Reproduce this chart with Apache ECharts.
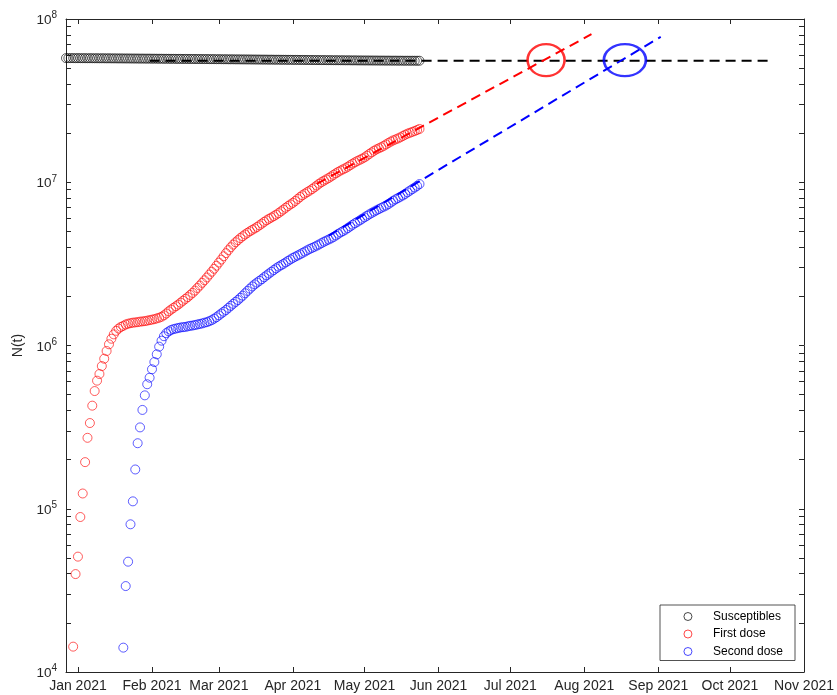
<!DOCTYPE html>
<html><head><meta charset="utf-8">
<script src="https://cdn.jsdelivr.net/npm/echarts@6/dist/echarts.min.js"></script>
<style>html,body{margin:0;padding:0;background:#fff}#c{width:837px;height:695px}</style>
</head><body><div id="c"></div>
<script>
// ---------------- data ----------------
const axisStart = '2020-12-27';
const axisEnd = '2021-11-01';
const monthTicks = ['2021-01-01','2021-02-01','2021-03-01','2021-04-01','2021-05-01','2021-06-01','2021-07-01','2021-08-01','2021-09-01','2021-10-01','2021-11-01'];
const monthLabels = ['Jan 2021','Feb 2021','Mar 2021','Apr 2021','May 2021','Jun 2021','Jul 2021','Aug 2021','Sep 2021','Oct 2021','Nov 2021'];
const yExponents = [4,5,6,7,8];
const seriesNames = ['Susceptibles','First dose','Second dose'];

// daily values, first entry on the given start date
const susceptiblesStart = '2020-12-27';
const susceptibles = [ // millions
57.60,57.59,57.58,57.57,57.56,57.55,57.54,57.53,57.52,57.51,
57.50,57.49,57.48,57.47,57.46,57.45,57.44,57.43,57.42,57.40,
57.39,57.37,57.36,57.34,57.33,57.31,57.30,57.28,57.27,57.25,
57.24,57.22,57.21,57.19,57.18,57.16,57.15,57.13,57.12,57.10,
57.09,57.07,57.06,57.04,57.03,57.01,57.00,56.98,56.97,56.95,
56.94,56.92,56.91,56.89,56.88,56.86,56.85,56.83,56.82,56.80,
56.78,56.77,56.75,56.73,56.72,56.70,56.68,56.67,56.65,56.63,
56.62,56.60,56.58,56.57,56.55,56.53,56.52,56.50,56.48,56.47,
56.45,56.43,56.42,56.40,56.38,56.37,56.35,56.33,56.32,56.30,
56.28,56.27,56.25,56.23,56.22,56.20,56.18,56.17,56.15,56.13,
56.12,56.10,56.08,56.07,56.05,56.03,56.02,56.00,55.98,55.97,
55.95,55.93,55.92,55.90,55.89,55.87,55.86,55.84,55.83,55.81,
55.80,55.78,55.77,55.75,55.74,55.72,55.71,55.70,55.68,55.67,
55.66,55.64,55.63,55.62,55.61,55.60,55.59,55.58,55.57,55.56,
55.55,55.54,55.53,55.53,55.52,55.52,55.51,55.51,55.50];

const firstDoseStart = '2020-12-30';
const firstDose = [ // millions
0.0143,0.0398,0.0509,0.089,0.124,0.193,0.272,0.335,0.428,0.526,
0.609,0.669,0.748,0.830,0.925,1.017,1.10,1.17,1.23,1.27,
1.30,1.32,1.345,1.36,1.37,1.38,1.385,1.39,1.40,1.405,
1.41,1.42,1.43,1.44,1.45,1.465,1.48,1.50,1.53,1.57,
1.62,1.66,1.70,1.74,1.78,1.83,1.88,1.93,1.98,2.04,
2.10,2.17,2.25,2.33,2.42,2.51,2.61,2.72,2.83,2.95,
3.08,3.22,3.36,3.52,3.68,3.84,4.00,4.15,4.29,4.42,
4.55,4.67,4.79,4.90,5.01,5.11,5.21,5.32,5.45,5.58,
5.72,5.85,5.97,6.08,6.20,6.33,6.47,6.63,6.80,6.98,
7.15,7.32,7.48,7.68,7.90,8.12,8.33,8.52,8.70,8.88,
9.08,9.30,9.55,9.80,10.02,10.22,10.42,10.62,10.85,11.10,
11.35,11.58,11.80,12.00,12.20,12.45,12.72,13.00,13.25,13.50,
13.72,13.95,14.20,14.55,14.90,15.25,15.60,15.90,16.15,16.40,
16.70,17.05,17.40,17.75,18.05,18.30,18.55,18.85,19.20,19.55,
19.85,20.10,20.35,20.60,20.90,21.20];

const secondDoseStart = '2021-01-20';
const secondDose = [ // millions
0.0141,0.0336,0.0474,0.0803,0.111,0.174,0.252,0.315,0.403,0.495,
0.579,0.635,0.715,0.792,0.883,0.984,1.07,1.14,1.19,1.22,
1.245,1.26,1.27,1.28,1.29,1.295,1.30,1.31,1.32,1.325,
1.335,1.345,1.355,1.365,1.38,1.39,1.41,1.43,1.46,1.49,
1.53,1.57,1.61,1.65,1.70,1.75,1.80,1.85,1.90,1.96,
2.02,2.09,2.16,2.23,2.30,2.37,2.43,2.49,2.55,2.62,
2.69,2.76,2.83,2.90,2.97,3.04,3.10,3.16,3.23,3.30,
3.37,3.44,3.50,3.56,3.62,3.69,3.76,3.83,3.90,3.96,
4.02,4.09,4.16,4.24,4.32,4.39,4.46,4.53,4.62,4.72,
4.83,4.93,5.02,5.12,5.24,5.36,5.49,5.61,5.72,5.84,
5.97,6.10,6.23,6.36,6.49,6.61,6.73,6.85,6.97,7.08,
7.20,7.35,7.52,7.70,7.86,8.00,8.15,8.30,8.48,8.68,
8.88,9.08,9.28,9.50,9.75];

// fitted / extrapolated lines: [date, value]
const susceptiblesFit = [['2021-01-31', 55.5e6], ['2021-10-17', 55.5e6]];
const firstDoseFit = [['2021-04-11', 9.78e6], ['2021-08-04', 8.07e7]];
const secondDoseFit = [['2021-04-16', 4.71e6], ['2021-09-02', 7.78e7]];
// crossing markers: [date, value]
const firstDoseCrossing = [['2021-07-16', 5.6e7]];
const secondDoseCrossing = [['2021-08-18', 5.6e7]];

// ---------------- build ----------------
function toTime(s) { const p = s.split('-').map(Number); return new Date(p[0], p[1] - 1, p[2]).getTime(); }
function daily(start, arr, scale) {
  const p = start.split('-').map(Number);
  return arr.map((v, i) => [new Date(p[0], p[1] - 1, p[2] + i).getTime(), v * scale]);
}
function pts(arr) { return arr.map(d => [toTime(d[0]), d[1]]); }

const monthTimes = monthTicks.map(toTime);
const yMajor = yExponents.map(e => Math.pow(10, e));
const yAll = [];
yExponents.forEach((e, i) => {
  if (i < yExponents.length - 1) { for (let k = 1; k <= 9; k++) yAll.push(k * Math.pow(10, e)); }
  else yAll.push(Math.pow(10, e));
});

const axisColor = '#262626';
const font = 'Liberation Sans, Arial, Helvetica, sans-serif';
const xBase = {
  type: 'value', min: toTime(axisStart), max: toTime(axisEnd), scale: true,
  axisLine: { lineStyle: { color: axisColor, width: 1 } },
  axisTick: { inside: true, length: 5, customValues: monthTimes, lineStyle: { color: axisColor } },
  splitLine: { show: false }
};
const yBase = {
  type: 'log', logBase: 10, min: 1e4, max: 1e8,
  axisLine: { show: true, lineStyle: { color: axisColor, width: 1 } },
  axisTick: { inside: true, length: 5, customValues: yAll, lineStyle: { color: axisColor } },
  splitLine: { show: false }, minorTick: { show: false }
};

const colors = ['#000000', '#ff0000', '#0000ff'];
function dots(name, data, color) {
  return { name: name, type: 'scatter', data: data, symbol: 'circle', symbolSize: 9,
    itemStyle: { color: 'rgba(0,0,0,0)', borderColor: color, borderWidth: 0.8 }, z: 2 };
}
function dash(data, color) {
  return { type: 'line', data: data, showSymbol: false, symbol: 'none', z: 3,
    lineStyle: { color: color, width: 2, type: [10, 6] }, silent: true };
}
function ring(data, color, size) {
  return { type: 'scatter', data: data, symbol: 'circle', symbolSize: size, z: 4,
    itemStyle: { color: 'rgba(0,0,0,0)', borderColor: color, borderWidth: 2.4 } };
}

const chart = echarts.init(document.getElementById('c'), null, { renderer: 'canvas' });
chart.setOption({
  animation: false,
  backgroundColor: '#fff',
  textStyle: { fontFamily: font },
  grid: { left: 66, right: 30, top: 19, bottom: 23, containLabel: false },
  xAxis: [
    Object.assign({}, xBase, { position: 'bottom',
      axisLabel: { customValues: monthTimes, color: axisColor, fontSize: 14, margin: 7, fontFamily: font,
        formatter: v => { const i = monthTimes.indexOf(v); return i >= 0 ? monthLabels[i] : ''; } } }),
    Object.assign({}, xBase, { position: 'top', axisLabel: { show: false } })
  ],
  yAxis: [
    Object.assign({}, yBase, { position: 'left', name: 'N(t)', nameLocation: 'middle', nameGap: 36,
      nameTextStyle: { color: axisColor, fontSize: 14, fontFamily: font },
      axisLabel: { customValues: yMajor, color: axisColor, margin: 9, fontFamily: font,
        formatter: v => '{b|10}{e|' + Math.round(Math.log10(v)) + '}',
        rich: { b: { fontSize: 13.5, color: axisColor, padding: [3, 0, 0, 0], fontFamily: font },
                e: { fontSize: 10, color: axisColor, verticalAlign: 'top', fontFamily: font } } } }),
    Object.assign({}, yBase, { position: 'right', axisLabel: { show: false } })
  ],
  legend: {
    data: seriesNames, orient: 'vertical', left: 660, top: 605,
    itemWidth: 40, itemHeight: 8, itemGap: 5.5,
    itemStyle: { borderWidth: 0.9 },
    textStyle: { fontSize: 12, color: '#000', fontFamily: font },
    backgroundColor: '#fff', borderColor: axisColor, borderWidth: 0.8, borderRadius: 0,
    padding: [5.5, 12, 3, 23.5]
  },
  series: [
    dots(seriesNames[0], daily(susceptiblesStart, susceptibles, 1e6), colors[0]),
    dots(seriesNames[1], daily(firstDoseStart, firstDose, 1e6), colors[1]),
    dots(seriesNames[2], daily(secondDoseStart, secondDose, 1e6), colors[2]),
    dash(pts(susceptiblesFit), colors[0]),
    dash(pts(firstDoseFit), colors[1]),
    dash(pts(secondDoseFit), colors[2]),
    ring(pts(firstDoseCrossing), colors[1], [37, 32]),
    ring(pts(secondDoseCrossing), colors[2], [42, 32])
  ]
});
</script></body></html>
